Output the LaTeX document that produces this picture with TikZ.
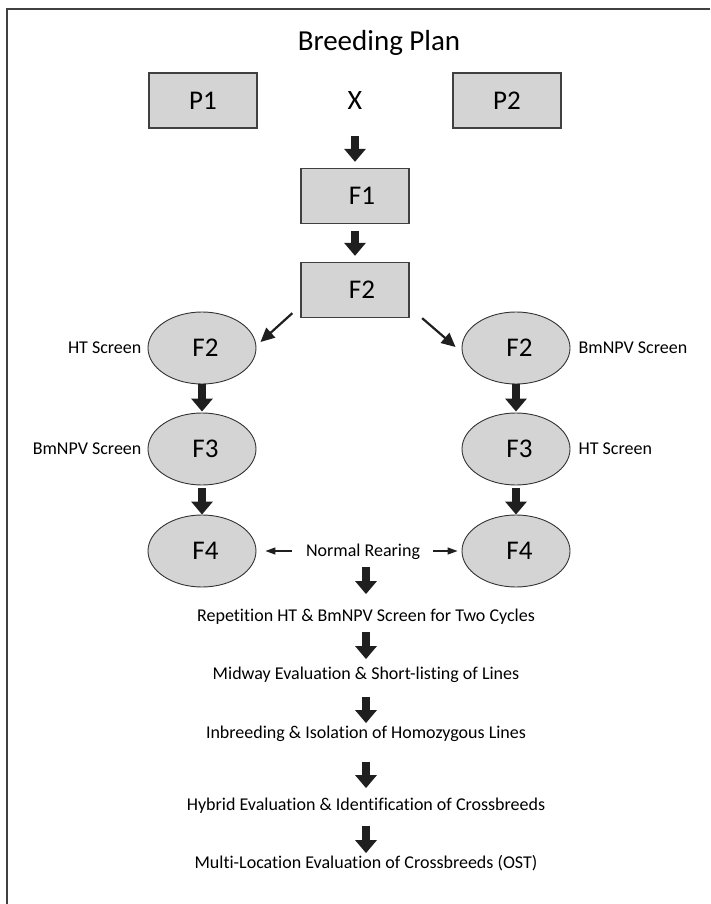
\documentclass[tikz,border=0pt]{standalone}
\usepackage{fontspec}
\setmainfont{Carlito}[Ligatures=NoCommon]
\usetikzlibrary{shapes.geometric,arrows.meta,positioning}

\begin{document}
\begin{tikzpicture}[x=1pt,y=-1pt]
	\tikzstyle{bx}=[rectangle, draw=black!75, line width=1.3pt, fill=black!17, minimum width=108pt, minimum height=55pt, font=\fontsize{27}{30}\selectfont, text height=17.1pt, text depth=0pt]
	\tikzstyle{el}=[ellipse, draw=black!80, line width=0.9pt, fill=black!17, minimum width=108pt, minimum height=72pt, inner sep=0pt, font=\fontsize{27}{30}\selectfont, text height=17.1pt, text depth=0pt, execute at begin node={\hspace*{7pt}}]
	\tikzstyle{lb}=[inner sep=0pt, font=\fontsize{18}{21}\selectfont, text height=11.4pt, text depth=0pt]
	\tikzstyle{fat}=[line width=8.5pt, black!88, -{Triangle[width=21pt,length=13pt]}]
	\tikzstyle{slim}=[line width=2.2pt, black!88, -{Triangle[width=13pt,length=14pt]}]
	\tikzstyle{hair}=[line width=1.3pt, black!88, -{Triangle[width=7pt,length=10pt]}]

	\useasboundingbox (0,0) rectangle (710,904);
	\draw[line width=1.6pt, black!75] (7,904) -- (7,9) -- (710,9);

	\node[lb, font=\fontsize{29}{32}\selectfont, text height=18.3pt] (title) at (379,41) {Breeding Plan};

	% parents and first crosses
	\node[bx] (p1) at (203,100.5) {P1};
	\node[lb, font=\fontsize{28}{30}\selectfont, text height=17.7pt] (cross) at (355,101) {X};
	\node[bx] (p2) at (507,100.5) {P2};
	\node[bx] (f1) at (355,196) {\hspace*{14pt}F1};
	\node[bx] (f2) at (355,290) {\hspace*{14pt}F2};

	% two screening lines
	\node[el] (f2l) at (202,348) {F2};
	\node[el] (f3l) at (202,449) {F3};
	\node[el] (f4l) at (202,551) {F4};
	\node[el] (f2r) at (516,348) {F2};
	\node[el] (f3r) at (516,449) {F3};
	\node[el] (f4r) at (516,551) {F4};

	\node[lb, left=6pt of f2l] (htl) {HT Screen};
	\node[lb, left=6pt of f3l] (bml) {BmNPV Screen};
	\node[lb, right=8pt of f2r] (bmr) {BmNPV Screen};
	\node[lb, right=8pt of f3r] (htr) {HT Screen};

	% later steps
	\node[lb] (nr) at (363,551) {Normal Rearing};
	\node[lb] (rep) at (366,616) {Repetition HT \& BmNPV Screen for Two Cycles};
	\node[lb] (mid) at (366,674) {Midway Evaluation \& Short-listing of Lines};
	\node[lb] (inb) at (366,733) {Inbreeding \& Isolation of Homozygous Lines};
	\node[lb] (hyb) at (366,805) {Hybrid Evaluation \& Identification of Crossbreeds};
	\node[lb] (mul) at (366,863) {Multi-Location Evaluation of Crossbreeds (OST)};

	\foreach \from/\to/\a/\b in {cross/f1/26/6, f1/f2/7/6, f2l/f3l/0/1, f3l/f4l/3/0, f2r/f3r/0/1, f3r/f4r/3/0, rep/mid/10/9, mid/inb/17/4, inb/hyb/23/11, hyb/mul/15/4}
		\draw[fat, shorten <=\a pt, shorten >=\b pt] (\from.south) -- (\to.north);
	\draw[fat, shorten <=10pt, shorten >=16pt] (nr.south -| rep.north) -- (rep.north);

	\draw[slim] ([xshift=-8pt,yshift=5pt]f2.south west) -- ([xshift=4pt,yshift=6pt]f2l.east);
	\draw[slim] ([xshift=12.5pt]f2.south east) -- ([xshift=-6pt,yshift=1pt]f2r.west);

	\draw[hair, shorten <=14pt, shorten >=9pt] (nr.west) -- (f4l.east);
	\draw[hair, shorten <=13pt, shorten >=4pt] (nr.east) -- (f4r.west);
\end{tikzpicture}
\end{document}
